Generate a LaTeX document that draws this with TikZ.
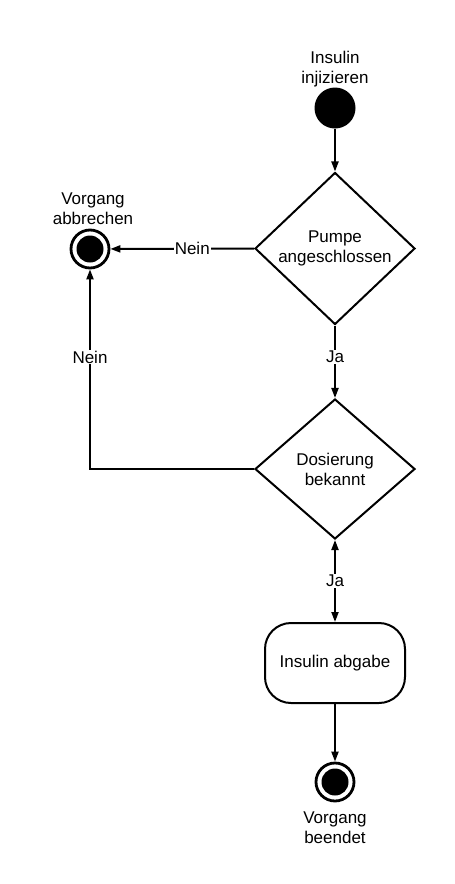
\documentclass[tikz,border=0pt]{standalone}
\usepackage{fontspec}
\setmainfont{Liberation Sans}
\usetikzlibrary{shapes.geometric,arrows.meta}

\tikzset{
    tip/.tip={Triangle[length=10pt,width=7pt]},
    flow/.style={line width=2pt,-tip},
    decision/.style={diamond,draw,line width=2pt,align=center,
        minimum width=160pt,minimum height=152pt,inner sep=0pt},
    activity/.style={rectangle,draw,line width=2pt,rounded corners=26pt,
        minimum width=140pt,minimum height=80pt},
    initial/.style={circle,fill=black,minimum size=41pt,inner sep=0pt},
    final/.style={circle,draw,line width=2.8pt,minimum size=38pt,inner sep=0pt,
        path picture={\fill (path picture bounding box.center) circle (13.5pt);}},
    lbl/.style={fill=white,inner sep=1pt}
}

\begin{document}
\begin{tikzpicture}[x=1pt,y=-1pt,font=\fontsize{17}{20}\selectfont]
\useasboundingbox (0,0) rectangle (455,884);

\node[initial,label={[align=center,label distance=-3pt]above:Insulin\\injizieren}] (start) at (335,108) {};
\node[decision] (pumpe) at (335,248.5) {Pumpe\\angeschlossen};
\node[final,label={[align=center,label distance=0pt,xshift=3pt]above:Vorgang\\abbrechen}] (abort) at (90,249) {};
\node[decision,minimum height=140pt] (dosis) at (335,469) {Dosierung\\bekannt};
\node[activity] (abgabe) at (335,663) {Insulin abgabe};
\node[final,label={[align=center,label distance=6pt]below:Vorgang\\beendet}] (finish) at (335,782) {};

\draw[flow] (start) -- (pumpe);
\draw[flow] (pumpe.west) -- node[lbl,pos=0.43] {Nein} (abort);
\draw[flow] (pumpe) -- node[lbl,pos=0.43] {Ja} (dosis);
\draw[flow] (dosis.west) -| node[lbl,pos=0.78] {Nein} (abort);
\draw[flow,tip-tip] (dosis) -- node[lbl] {Ja} (abgabe);
\draw[flow] (abgabe) -- (finish);
\end{tikzpicture}
\end{document}
